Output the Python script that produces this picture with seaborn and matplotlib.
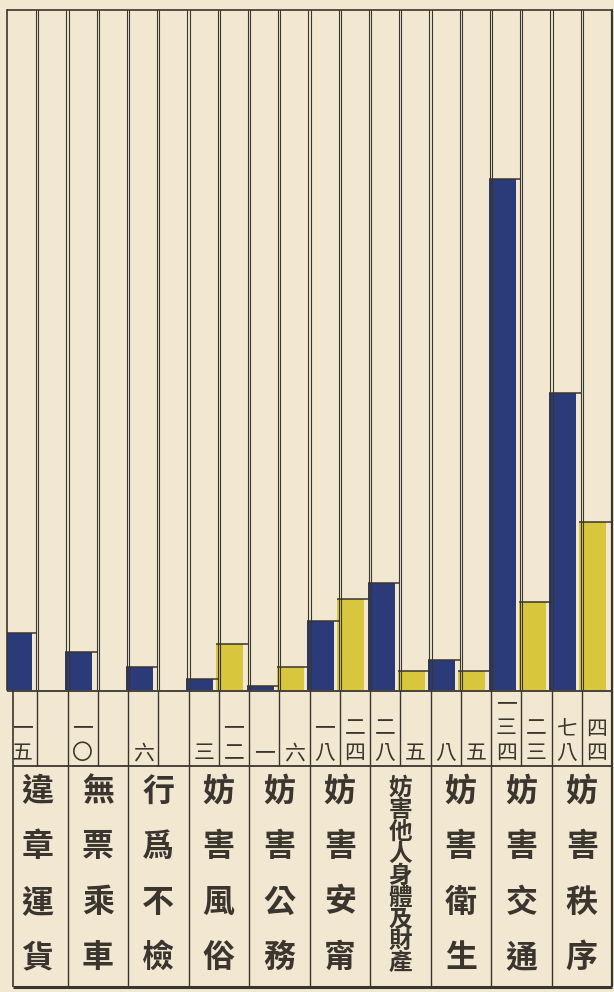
import matplotlib
matplotlib.use("Agg")
import matplotlib.pyplot as plt
import pandas as pd
import seaborn as sns

# Offence categories and counts for the two series (blue / yellow)
categories = ["違章運貨", "無票乘車", "行爲不檢", "妨害風俗", "妨害公務",
              "妨害安甯", "妨害他人身體及財產", "妨害衛生", "妨害交通", "妨害秩序"]
blue_counts = [15, 10, 6, 3, 1, 18, 28, 8, 134, 78]
yellow_counts = [0, 0, 0, 12, 6, 24, 5, 5, 23, 44]
series_names = ["甲", "乙"]

PAPER = "#f2e8d1"
INK = "#3a352f"
BLUE = "#2b3a79"
YELLOW = "#d8c63c"

DIGITS = "〇一二三四五六七八九"


def to_numeral(n):
    """Digit-by-digit Chinese numeral, e.g. 134 -> 一三四."""
    return "".join(DIGITS[int(d)] for d in str(n))


df = pd.DataFrame({
    "category": categories * 2,
    "series": [series_names[0]] * len(categories) + [series_names[1]] * len(categories),
    "count": blue_counts + yellow_counts,
})

sns.set_style("white")
plt.rcParams["font.family"] = ["Noto Sans CJK TC", "DejaVu Sans"]

W, H = 614, 992
fig = plt.figure(figsize=(W / 100, H / 100), dpi=100, facecolor=PAPER)


def fx(px):
    return px / W


def fy(py):
    return 1 - py / H


X0, X1 = 7, 612
BASE, TOP = 690, 10
TABLE_BOTTOM = 988
PX_PER_UNIT = 3.81
COL_PX = (X1 - X0) / len(categories)

# ---- bar panel -------------------------------------------------------------
ax = fig.add_axes([fx(X0), fy(BASE), fx(X1) - fx(X0), fy(TOP) - fy(BASE)])
ax.set_facecolor(PAPER)
sns.barplot(data=df, x="category", y="count", hue="series",
            order=categories, hue_order=series_names,
            palette=[BLUE, YELLOW], width=1.0, dodge=True, saturation=1,
            errorbar=None, legend=False, ax=ax, linewidth=0)

ax.set_xlim(-0.5, len(categories) - 0.5)
ax.set_ylim(0, (BASE - TOP) / PX_PER_UNIT)

# narrow each bar inside its sub-column and mark its top with a rule
shift = 2.5 / COL_PX
bar_w = 27 / COL_PX
for p in ax.patches:
    left = p.get_x()
    right = left + p.get_width()
    h = p.get_height()
    p.set_x(left - shift)
    p.set_width(bar_w)
    if h > 0:
        ax.hlines(h, left - shift, right, color=INK, lw=1.1, zorder=4)

# double ruling between sub-columns
gap = 1.2 / COL_PX
for k in range(1, 2 * len(categories)):
    xv = -0.5 + 0.5 * k
    for off in (-gap, gap):
        ax.axvline(xv + off, color=INK, lw=0.8, zorder=3)

# frame
ax.axhline(ax.get_ylim()[1], color=INK, lw=1.2, clip_on=False, zorder=5)
ax.axvline(-0.5, color=INK, lw=1.2, clip_on=False, zorder=5)
ax.axvline(len(categories) - 0.5, color=INK, lw=1.6, clip_on=False, zorder=5)
ax.set_xticks([])
ax.set_yticks([])
ax.set_xlabel("")
ax.set_ylabel("")
for s in ax.spines.values():
    s.set_visible(False)

# ---- table below: numerals and category names ------------------------------
tab = fig.add_axes([fx(X0), fy(TABLE_BOTTOM), fx(X1) - fx(X0), fy(BASE) - fy(TABLE_BOTTOM)])
tab.set_xlim(-0.5, len(categories) - 0.5)
tab.set_ylim(TABLE_BOTTOM, BASE)
tab.axis("off")
tab.patch.set_alpha(0)

ROW_SPLIT = 766
left_edge = -0.5 + 6 / COL_PX
right_edge = len(categories) - 0.5
tab.hlines(BASE + 1, -0.5, right_edge, color=INK, lw=1.3, clip_on=False)
tab.hlines(ROW_SPLIT, left_edge, right_edge, color=INK, lw=1.3, clip_on=False)
tab.hlines(TABLE_BOTTOM - 1.5, left_edge, right_edge, color=INK, lw=2.2, clip_on=False)
tab.vlines(left_edge, BASE, TABLE_BOTTOM - 1.5, color=INK, lw=1.2, clip_on=False)
tab.vlines(right_edge, BASE, TABLE_BOTTOM - 1.5, color=INK, lw=1.6, clip_on=False)
for k in range(1, 2 * len(categories)):
    tab.vlines(-0.5 + 0.5 * k, BASE, ROW_SPLIT, color=INK, lw=1.0)
for k in range(1, len(categories)):
    tab.vlines(-0.5 + k, ROW_SPLIT, TABLE_BOTTOM - 1.5, color=INK, lw=1.0)

# stacked numerals, bottom aligned in each sub-column
for offset, counts in ((-0.25, blue_counts), (0.25, yellow_counts)):
    for i, val in enumerate(counts):
        if val <= 0:
            continue
        for k, ch in enumerate(reversed(to_numeral(val))):
            tab.text(i + offset, 753 - 24.5 * k, ch, ha="center", va="center",
                     fontsize=15, color=INK)

# vertical category names
for i, name in enumerate(categories):
    if len(name) <= 4:
        y0, step, size = 792, 55.3, 23
    else:
        y0, step, size = 788, 21.9, 17
    for k, ch in enumerate(name):
        tab.text(i, y0 + step * k, ch, ha="center", va="center",
                 fontsize=size, color=INK, fontweight="bold")

fig.savefig("out.png", dpi=100, facecolor=PAPER)
